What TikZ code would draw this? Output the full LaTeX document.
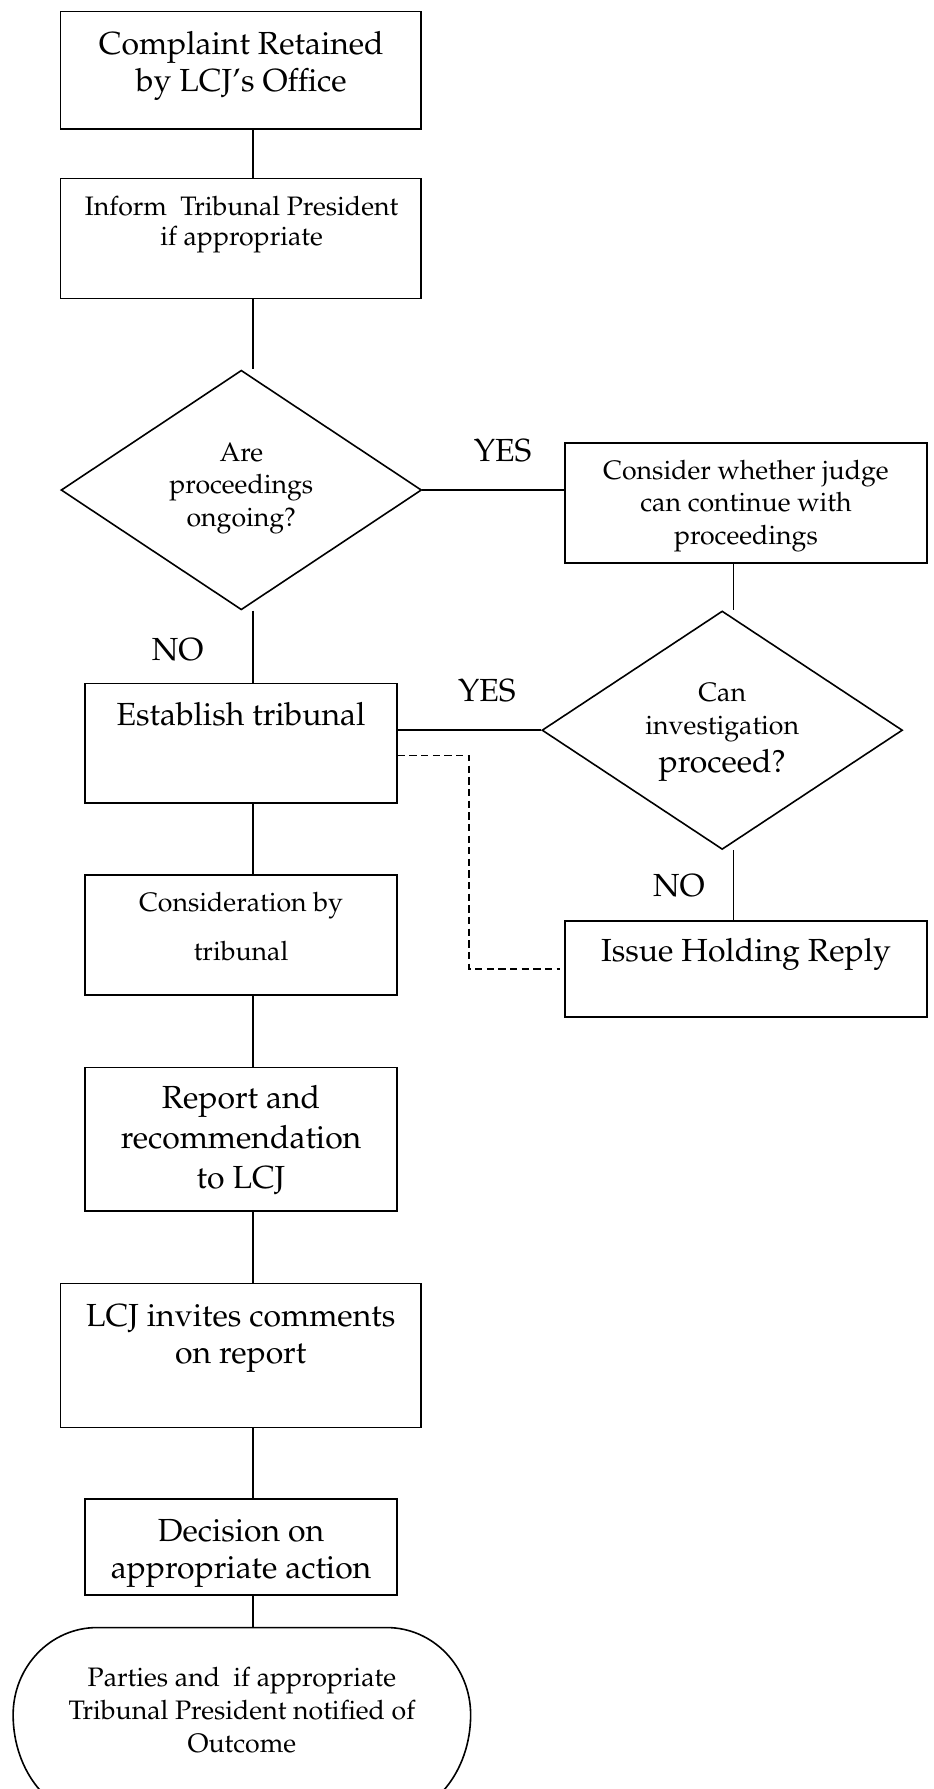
\documentclass[tikz,border=0pt]{standalone}
\usepackage[T1]{fontenc}
\usepackage{mathpazo}
\usetikzlibrary{shapes.geometric}
\tikzset{
  boxnode/.style={draw, line width=0.7pt, rectangle, inner sep=0pt},
  diam/.style={draw, line width=0.7pt, diamond, inner sep=0pt},
  conn/.style={line width=0.65pt},
  dconn/.style={line width=0.65pt, dash pattern=on 3.2pt off 1.9pt},
  txtL/.style={align=center, inner sep=0pt, font=\fontsize{14}{16.25}\selectfont},
  txtS/.style={align=center, inner sep=0pt, font=\fontsize{11.7}{14.25}\selectfont},
  lbl/.style={inner sep=0pt, anchor=base, font=\fontsize{14}{16.25}\selectfont},
}
\begin{document}
\begin{tikzpicture}[x=0.5pt, y=-0.5pt]
\useasboundingbox (0,0) rectangle (818,1568);
% boxes
\node[boxnode, minimum width=158pt, minimum height=51.5pt] (b1) at (211,61.65) {};
\node[boxnode, minimum width=158pt, minimum height=52.6pt] (b2) at (211,209.1) {};
\node[diam, minimum width=158pt, minimum height=105pt] (d1) at (211.5,429.5) {};
\node[boxnode, minimum width=158.5pt, minimum height=52.5pt] (b3) at (653.8,441) {};
\node[diam, minimum width=158pt, minimum height=104.5pt] (d2) at (633,640) {};
\node[boxnode, minimum width=136.75pt, minimum height=52.5pt] (b4) at (211.25,651.5) {};
\node[boxnode, minimum width=158.5pt, minimum height=42.25pt] (b5) at (653.8,849.25) {};
\node[boxnode, minimum width=136.75pt, minimum height=52.5pt] (b6) at (211.25,819.5) {};
\node[boxnode, minimum width=136.75pt, minimum height=63pt] (b7) at (211.25,998.5) {};
\node[boxnode, minimum width=158pt, minimum height=63pt] (b8) at (211,1188) {};
\node[boxnode, minimum width=136.75pt, minimum height=42pt] (b9) at (211.25,1356) {};
\coordinate (t1) at (212,1426.5);
\draw[line width=0.7pt] (85,1426.5) -- (339,1426.5)
  .. controls (379.6,1426.5) and (412.5,1460.7) .. (412.5,1503)
  .. controls (412.5,1552.7) and (379.6,1593) .. (339,1593)
  -- (85,1593)
  .. controls (44.4,1593) and (11.5,1552.7) .. (11.5,1503)
  .. controls (11.5,1460.7) and (44.4,1426.5) .. (85,1426.5) -- cycle;
% texts
\node[txtL] (t-b1) at (211.5,57.25) {\strut Complaint Retained\\by LCJ's Office\strut};
\node[txtS, font=\fontsize{11.7}{13.5}\selectfont] (t-b2) at (211.75,196.6) {\strut Inform\ \ Tribunal President\\if appropriate\strut};
\node[txtS] (t-d1) at (211.5,427.2) {\strut Are\\proceedings\\ongoing?\strut};
\node[txtS] (t-b3) at (653.8,442.8) {\strut Consider whether judge\\can continue with\\proceedings\strut};
\node[txtS, font=\fontsize{11.7}{14.5}\selectfont] (t-d2a) at (633,623.4) {\strut Can\\investigation\strut};
\node[lbl] (t-d2b) at (633,677) {proceed?};
\node[lbl] (t-b4) at (211.25,635.6) {Establish tribunal};
\node[lbl] (t-b5) at (653.8,842.9) {Issue Holding Reply};
\node[txtS, font=\fontsize{11.7}{21.2}\selectfont] (t-b6) at (211.25,812) {\strut Consideration by\\tribunal\strut};
\node[txtL, font=\fontsize{14}{17.5}\selectfont] (t-b7) at (211.25,999.6) {\strut Report and\\recommendation\\to LCJ\strut};
\node[txtL] (t-b8) at (211,1172.25) {\strut LCJ invites comments\\on report\strut};
\node[txtL] (t-b9) at (211.25,1360.75) {\strut Decision on\\appropriate action\strut};
\node[txtS, font=\fontsize{11.7}{14.5}\selectfont] (t-t1) at (212,1501.2) {\strut Parties and\ \ if appropriate\\Tribunal President notified of\\Outcome\strut};
% labels
\node[lbl] (yes1) at (440.5,404.4) {YES};
\node[lbl] (yes2) at (426.7,615.2) {YES};
\node[lbl] (no1) at (155.7,579.2) {NO};
\node[lbl] (no2) at (595,786) {NO};
% connectors
\coordinate (xl) at (221.8,0);
\coordinate (xr) at (643,0);
\draw[conn] (b1.south -| xl) -- (b2.north -| xl);
\draw[conn] (b2.south -| xl) -- (d1.north -| xl);
\draw[conn] (d1.east) -- (d1.east -| b3.west);
\draw[conn] (b3.south -| xr) -- (d2.north -| xr);
\draw[conn] (d1.south -| xl) -- (b4.north -| xl);
\draw[conn] (d2.west -| b4.east) -- (d2.west);
\draw[conn] (d2.south -| xr) -- (b5.north -| xr);
\coordinate (dk) at (411,662);
\draw[dconn] (b4.east |- dk) -- (dk) -- (dk |- b5.west) -- ([xshift=-2pt]b5.west);
\draw[conn] (b4.south -| xl) -- (b6.north -| xl);
\draw[conn] (b6.south -| xl) -- (b7.north -| xl);
\draw[conn] (b7.south -| xl) -- (b8.north -| xl);
\draw[conn] (b8.south -| xl) -- (b9.north -| xl);
\draw[conn] (b9.south -| xl) -- (t1 -| xl);
\end{tikzpicture}
\end{document}
